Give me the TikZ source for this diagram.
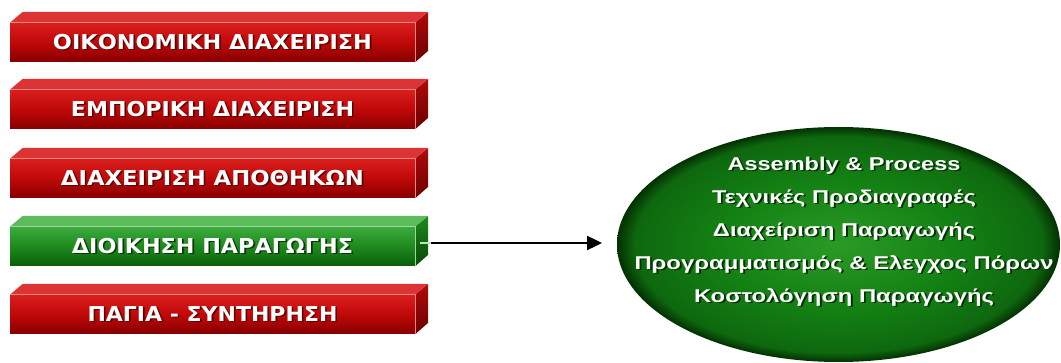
\documentclass[tikz,border=0pt]{standalone}
\usepackage{fontspec}
\setmainfont{Liberation Sans}
\newfontfamily\barfont{DejaVu Sans}
\usetikzlibrary{shapes.geometric,arrows.meta}
\definecolor{rtop}{HTML}{DA1E1E}
\definecolor{rmid}{HTML}{C00808}
\definecolor{rbot}{HTML}{860000}
\definecolor{rface}{HTML}{DC3434}
\definecolor{rside1}{HTML}{B00A0A}
\definecolor{rside2}{HTML}{6A0000}
\definecolor{gtop}{HTML}{3CAA3C}
\definecolor{gmid}{HTML}{1E8A1E}
\definecolor{gbot}{HTML}{0A5E0A}
\definecolor{gface}{HTML}{5CBC5C}
\definecolor{gside1}{HTML}{1E8A1E}
\definecolor{gside2}{HTML}{064806}
\definecolor{ein}{HTML}{2A9A26}
\definecolor{emid}{HTML}{138013}
\definecolor{eout}{HTML}{033003}
\pgfdeclareradialshading{eshade}{\pgfpoint{0bp}{0bp}}{color(0bp)=(ein); color(14bp)=(emid); color(23bp)=(emid!70!eout); color(25bp)=(eout); color(50bp)=(eout)}
\newcommand\shtx[2]{\rlap{\hspace{1.5pt}\raisebox{-1.5pt}{\color{#1}#2}}#2}
\newcommand\fitw[2]{\resizebox{#1pt}{\height}{#2}}
\tikzset{
  front/.style={rectangle, minimum width=405pt, minimum height=39pt, inner sep=0pt, text=white,
    font=\barfont\bfseries\fontsize{20.5}{22}\selectfont},
  redfront/.style={front, top color=rtop, bottom color=rbot, middle color=rmid},
  greenfront/.style={front, top color=gtop, bottom color=gbot, middle color=gmid},
}
% #1 node name, #2 top face colour, #3 side top colour, #4 side bottom colour, #5 highlight
\newcommand\barfaces[5]{%
  \fill[#2] (#1.north west) -- ++(13,-11) -- ++(405,0) -- (#1.north east) -- cycle;
  \shade[top color=#3, bottom color=#4] (#1.north east) -- ++(13,-11) -- ++(0,39) -- (#1.south east) -- cycle;
  \draw[#5, line width=0.8pt] (#1.north west) -- (#1.north east) -- (#1.south east);
}
\begin{document}
\begin{tikzpicture}[x=1pt,y=-1pt]
\useasboundingbox[fill=white] (0,0) rectangle (1061,363);

\node[redfront] (b1) at (212.5,42.5) {\fitw{319}{\shtx{rbot!70!black}{ΟΙΚΟΝΟΜΙΚΗ ΔΙΑΧΕΙΡΙΣΗ}}};
\barfaces{b1}{rface}{rside1}{rside2}{rface!60!white}
\node[redfront] (b2) at (212.5,109.5) {\fitw{283}{\shtx{rbot!70!black}{ΕΜΠΟΡΙΚΗ ΔΙΑΧΕΙΡΙΣΗ}}};
\barfaces{b2}{rface}{rside1}{rside2}{rface!60!white}
\node[redfront] (b3) at (212.5,178.5) {\fitw{303}{\shtx{rbot!70!black}{ΔΙΑΧΕΙΡΙΣΗ ΑΠΟΘΗΚΩΝ}}};
\barfaces{b3}{rface}{rside1}{rside2}{rface!60!white}
\node[greenfront] (b4) at (212.5,246.5) {\fitw{281}{\shtx{gbot!60!black}{ΔΙΟΙΚΗΣΗ ΠΑΡΑΓΩΓΗΣ}}};
\barfaces{b4}{gface}{gside1}{gside2}{gface!60!white}
\node[redfront] (b5) at (212.5,314.5) {\fitw{250}{\shtx{rbot!70!black}{ΠΑΓΙΑ - ΣΥΝΤΗΡΗΣΗ}}};
\barfaces{b5}{rface}{rside1}{rside2}{rface!60!white}

\node[ellipse, minimum width=443pt, minimum height=235pt, inner sep=0pt,
      shading=eshade] (e) at (838.5,244.5) {};
\node[align=center, text=white, inner sep=0pt,
      font=\bfseries\fontsize{18.5}{33}\selectfont] (et) at (844,232) {%
  \fitw{233}{\shtx{eout}{Assembly \& Process}}\\
  \fitw{264}{\shtx{eout}{Τεχνικές Προδιαγραφές}}\\
  \fitw{262}{\shtx{eout}{Διαχείριση Παραγωγής}}\\
  \fitw{419}{\shtx{eout}{Προγραμματισμός \& Ελεγχος Πόρων}}\\
  \fitw{300}{\shtx{eout}{Κοστολόγηση Παραγωγής}}};

\coordinate (s0) at (420,243);
\coordinate (s1) at (431,243);
\coordinate (a1) at (602,243);
\draw[gface!40!white, line width=2.5pt] (s0) -- (s1);
\draw[line width=2.4pt, -{Triangle[length=15pt,width=14pt]}] (s1) -- (a1);
\end{tikzpicture}
\end{document}
